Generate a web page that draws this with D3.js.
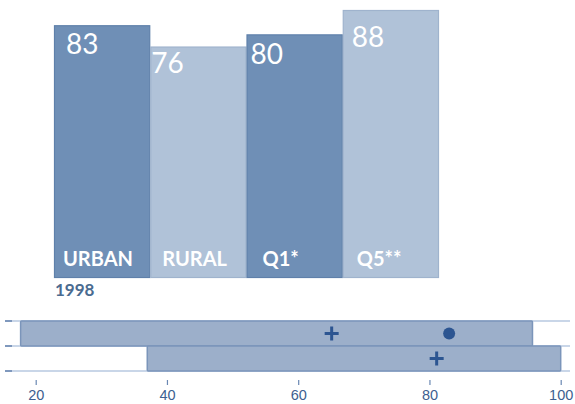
<!DOCTYPE html>
<html><head><meta charset="utf-8">
<script src="https://cdn.jsdelivr.net/npm/d3@7"></script>
<style>body{margin:0;background:#fff}svg{display:block}</style>
</head><body>
<svg id="c" width="575" height="404"></svg>
<script>
// ---- data ----
const categories = ["URBAN", "RURAL", "Q1*", "Q5**"];
const values = [83, 76, 80, 88];
const yearLabel = "1998";
const rows = ["row1", "row2"];
const boxLow = [17.7, 37];
const boxHigh = [95.7, 100];
const plusValues = [65.1, 81.1];
const dotValues = [83, null];
const xTicks = [20, 40, 60, 80, 100];

// ---- layout ----
const barFill = ["#6f8fb6", "#b0c2d8", "#6f8fb6", "#b0c2d8"];
const barStroke = ["#5f80aa", "#9fb3cd", "#5f80aa", "#9fb3cd"];
const valDx = [12, 1, 4, 9];
const valDy = [29, 26, 30, 37];
const catDx = [9, 12, 16, 14];

const svg = d3.select("#c");
const xb = d3.scaleBand().domain(categories).range([54, 439]).padding(0);
const yb = d3.scaleLinear().domain([0, 88]).range([278, 10]);

const g = svg.append("g");
g.selectAll("rect.bar").data(values).enter().append("rect")
  .attr("class", "bar")
  .attr("x", (d, i) => xb(categories[i]) + 0.5)
  .attr("y", d => yb(d) + 0.5)
  .attr("width", xb.bandwidth() - 1)
  .attr("height", d => yb(0) - yb(d) - 1)
  .attr("fill", (d, i) => barFill[i])
  .attr("stroke", (d, i) => barStroke[i])
  .attr("stroke-width", 1.2);

g.selectAll("text.val").data(values).enter().append("text")
  .attr("class", "val")
  .attr("x", (d, i) => xb(categories[i]) + valDx[i])
  .attr("y", (d, i) => yb(d) + valDy[i])
  .attr("fill", "#fff")
  .attr("font-family", "Lato, 'Open Sans', sans-serif")
  .attr("font-size", 28)
  .text(d => d);

g.selectAll("text.cat").data(categories).enter().append("text")
  .attr("class", "cat")
  .attr("x", (d, i) => xb(d) + catDx[i])
  .attr("y", 266)
  .attr("fill", "#fff")
  .attr("font-family", "Lato, 'Open Sans', sans-serif")
  .attr("font-weight", "bold")
  .attr("font-size", 20)
  .text(d => d);

g.append("text")
  .attr("x", 55).attr("y", 296)
  .attr("fill", "#4a6b90")
  .attr("font-family", "Lato, 'Open Sans', sans-serif")
  .attr("font-weight", "bold")
  .attr("font-size", 17)
  .text(yearLabel);

// ---- bottom range panel ----
const x = d3.scaleLinear().domain([20, 100]).range([35.7, 560.7]);
const yr = d3.scaleBand().domain(rows).range([321, 371]).padding(0);

const lines = [yr.range()[0], yr(rows[1]), yr.range()[1]];
const p = svg.append("g");
p.selectAll("line.grid").data(lines).enter().append("line")
  .attr("x1", 5).attr("x2", 570)
  .attr("y1", d => d).attr("y2", d => d)
  .attr("stroke", "#c9d6e8").attr("stroke-width", 2);
p.selectAll("line.lt").data(lines).enter().append("line")
  .attr("x1", 5).attr("x2", 12)
  .attr("y1", d => d).attr("y2", d => d)
  .attr("stroke", "#7f98bd").attr("stroke-width", 2);

p.selectAll("rect.box").data(rows).enter().append("rect")
  .attr("x", (d, i) => x(boxLow[i]))
  .attr("y", d => yr(d))
  .attr("width", (d, i) => x(boxHigh[i]) - x(boxLow[i]))
  .attr("height", yr.bandwidth())
  .attr("fill", "#9cafca")
  .attr("stroke", "#7b95ba")
  .attr("stroke-width", 1.5)
  .attr("rx", 1);

const plusColor = "#2c5591";
p.selectAll("path.plus").data(rows).enter().append("path")
  .attr("d", (d, i) => {
    const cx = x(plusValues[i]), cy = yr(d) + yr.bandwidth() / 2;
    return `M${cx - 7},${cy}H${cx + 7}M${cx},${cy - 7}V${cy + 7}`;
  })
  .attr("stroke", plusColor).attr("stroke-width", 3).attr("fill", "none");

p.selectAll("circle.dot").data(rows.filter((d, i) => dotValues[i] != null)).enter().append("circle")
  .attr("cx", (d, i) => x(dotValues[rows.indexOf(d)]))
  .attr("cy", d => yr(d) + yr.bandwidth() / 2)
  .attr("r", 6)
  .attr("fill", plusColor);

const ax = p.append("g").attr("transform", "translate(0,380)")
  .call(d3.axisBottom(x).tickValues(xTicks).tickSize(5).tickPadding(5).tickFormat(d3.format("d")));
ax.select(".domain").remove();
ax.selectAll(".tick line").attr("stroke", "#6a88b3").attr("stroke-width", 1.2);
ax.selectAll(".tick text").attr("fill", "#3d5f90")
  .attr("font-family", "'Liberation Sans', Arial, sans-serif").attr("font-size", 14.5);
</script>
</body></html>
